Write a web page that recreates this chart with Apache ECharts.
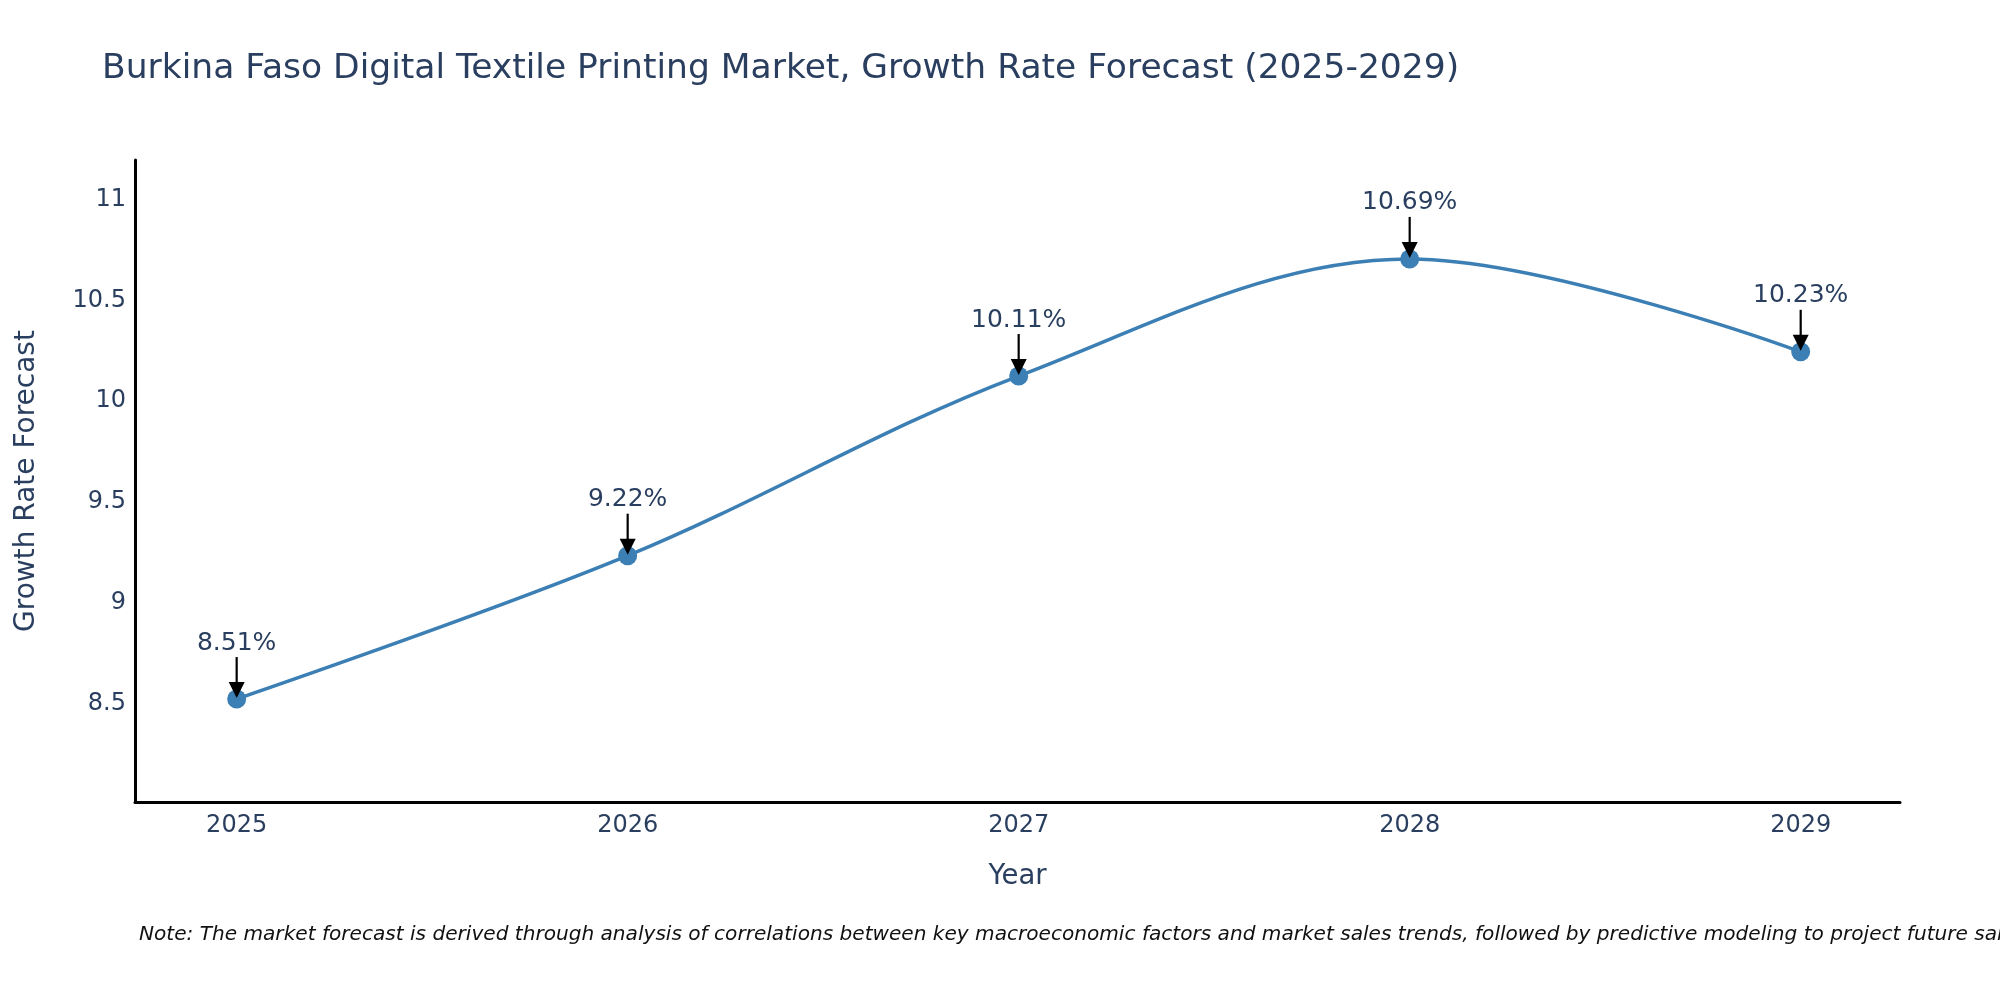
<!DOCTYPE html>
<html>
<head>
<meta charset="utf-8">
<script src="https://cdn.jsdelivr.net/npm/echarts@6/dist/echarts.min.js"></script>
<style>
html,body{margin:0;padding:0;background:#fff;}
#chart{width:2000px;height:1000px;}
</style>
</head>
<body>
<div id="chart"></div>
<script>
const years = [2025, 2026, 2027, 2028, 2029];
const growthRates = [8.51, 9.22, 10.11, 10.69, 10.23];
const yTickLabels = [8.5, 9, 9.5, 10, 10.5, 11];
const xTickLabels = [2025, 2026, 2027, 2028, 2029];
const titleText = 'Burkina Faso Digital Textile Printing Market, Growth Rate Forecast (2025-2029)';
const noteText = 'Note: The market forecast is derived through analysis of correlations between key macroeconomic factors and market sales trends, followed by predictive modeling to project future sales.';

const FONT = '"DejaVu Sans", Verdana, sans-serif';
const TXT = '#2a3f5f';
const LINE = '#3b7fb4';

const points = years.map((y, i) => [y, growthRates[i]]);

const chart = echarts.init(document.getElementById('chart'));
chart.setOption({
  backgroundColor: '#fff',
  animation: false,
  title: {
    text: titleText,
    left: 97,
    top: 47,
    textStyle: { fontFamily: FONT, fontSize: 34.5, fontWeight: 'normal', color: TXT }
  },
  grid: { left: 135, right: 100, top: 160, bottom: 198 },
  xAxis: {
    type: 'value',
    min: 2024.74,
    max: 2029.254,
    splitNumber: 5,
    name: 'Year',
    nameLocation: 'middle',
    nameGap: 61,
    nameTextStyle: { fontFamily: FONT, fontSize: 27.5, color: TXT },
    axisLine: { show: true, onZero: false, lineStyle: { color: '#000', width: 3 } },
    axisTick: { show: false },
    splitLine: { show: false },
    axisLabel: {
      fontFamily: FONT, fontSize: 24, color: TXT, margin: 12,
      formatter: v => xTickLabels.some(t => Math.abs(t - v) < 1e-6) ? String(Math.round(v)) : ''
    }
  },
  yAxis: {
    type: 'value',
    min: 8.0,
    max: 11.18,
    interval: 0.5,
    name: 'Growth Rate Forecast',
    nameLocation: 'middle',
    nameGap: 94,
    nameRotate: 90,
    nameTextStyle: { fontFamily: FONT, fontSize: 28, color: TXT },
    axisLine: { show: true, lineStyle: { color: '#000', width: 3 } },
    axisTick: { show: false },
    splitLine: { show: false },
    axisLabel: {
      fontFamily: FONT, fontSize: 24, color: TXT, margin: 9,
      formatter: v => yTickLabels.some(t => Math.abs(t - v) < 1e-6) ? '{v|' + v + '}' : '',
      rich: {
        v: { fontFamily: FONT, fontSize: 24, color: TXT, padding: [6, 0, 0, 0] }
      }
    }
  },
  graphic: [{
    type: 'text',
    left: 139,
    top: 925,
    style: {
      text: noteText,
      fontFamily: FONT,
      fontStyle: 'italic',
      fontSize: 20.1,
      fill: '#111'
    }
  }],
  series: [
    {
      type: 'line',
      data: points,
      smooth: 0.35,
      symbol: 'circle',
      symbolSize: 19,
      itemStyle: { color: LINE },
      lineStyle: { color: LINE, width: 3.5 },
      z: 2
    },
    {
      type: 'custom',
      data: points,
      z: 5,
      clip: false,
      renderItem: function (params, api) {
        const p = api.coord([api.value(0), api.value(1)]);
        const x = p[0], y = p[1];
        const label = growthRates[params.dataIndex].toFixed(2) + '%';
        return {
          type: 'group',
          children: [
            { type: 'line', shape: { x1: x, y1: y - 42, x2: x, y2: y - 14 },
              style: { stroke: '#000', lineWidth: 2.2 } },
            { type: 'polygon', shape: { points: [[x - 8, y - 17], [x + 8, y - 17], [x, y - 1]] },
              style: { fill: '#000' } },
            { type: 'text', x: x, y: y - 56,
              style: { text: label, fontFamily: FONT, fontSize: 25, fill: TXT,
                       align: 'center', verticalAlign: 'middle' } }
          ]
        };
      }
    }
  ]
});
</script>
</body>
</html>
